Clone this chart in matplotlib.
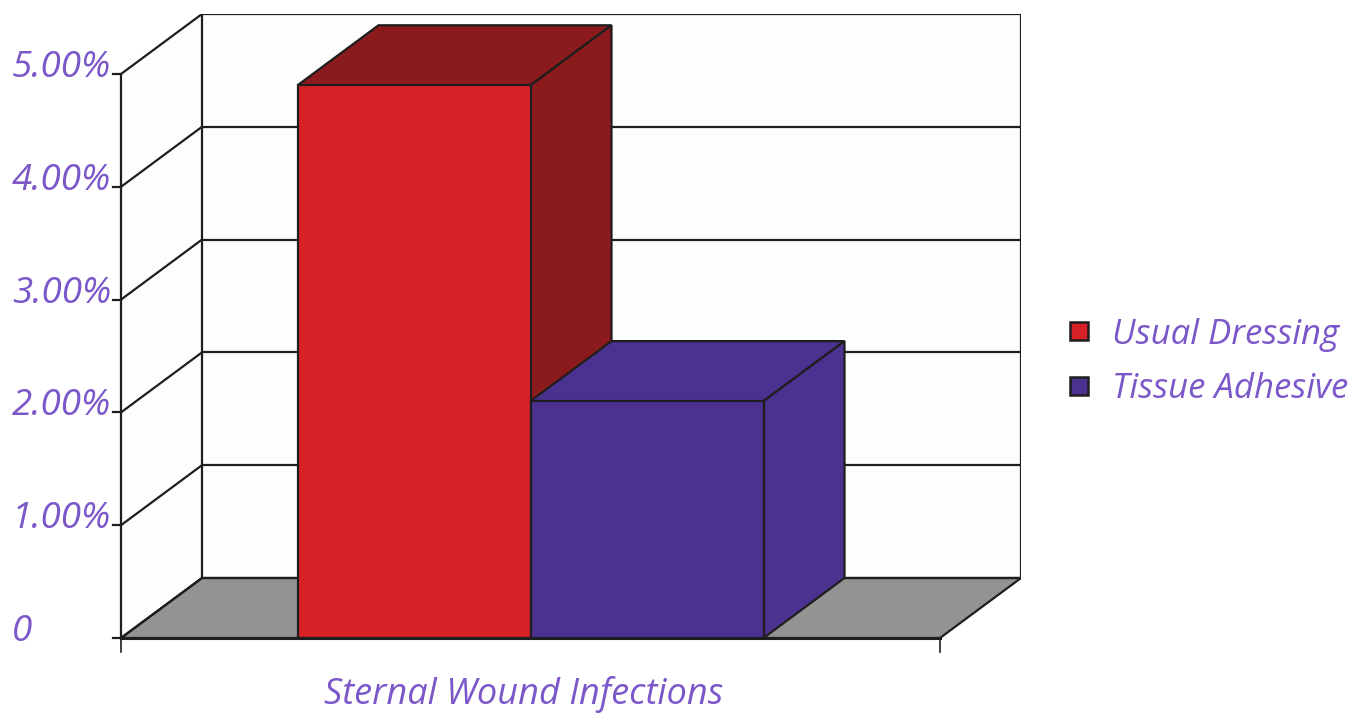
import matplotlib
matplotlib.use("Agg")
import matplotlib.pyplot as plt
from matplotlib.patches import Polygon
from matplotlib.lines import Line2D
import matplotlib.transforms as mtransforms

# ---- data ----
category = "Sternal Wound Infections"
series_names = ["Usual Dressing", "Tissue Adhesive"]
series_values = [4.9, 2.1]          # percent
tick_values = [0, 1, 2, 3, 4, 5]
tick_labels = ["0", "1.00%", "2.00%", "3.00%", "4.00%", "5.00%"]

# ---- style ----
front_colors = ["#D82127", "#4B3190"]
side_colors = ["#8B1A1C", "#4B3190"]
floor_color = "#939393"
wall_color = "#FDFDFD"
text_color = "#7B57C9"
edge = "#1E1E1E"
FONT = ["Open Sans", "DejaVu Sans"]
WEIGHT = "normal"

W, H = 1372, 715
fig = plt.figure(figsize=(W / 100, H / 100), dpi=100)
fig.patch.set_facecolor("white")

# geometry in data units
bar_w = 1.0
half_floor = 1.7575
dx = 0.3476      # depth in x units
dy = 0.532       # depth in y units
ymax = tick_values[-1]

ax = fig.add_axes([121 / W, (H - 638) / H, 900 / W, 624 / H])
ax.set_xlim(-half_floor, half_floor + dx)
ax.set_ylim(0, ymax + dy)
ax.axis("off")

lw = 1.6
# back wall
ax.add_patch(Polygon([(-half_floor + dx, dy), (half_floor + dx, dy),
                      (half_floor + dx, ymax + dy), (-half_floor + dx, ymax + dy)],
                     closed=True, facecolor=wall_color, edgecolor="none", zorder=0))
# left side wall
ax.add_patch(Polygon([(-half_floor, 0), (-half_floor + dx, dy),
                      (-half_floor + dx, ymax + dy), (-half_floor, ymax)],
                     closed=True, facecolor=wall_color, edgecolor="none", zorder=0))
# floor
ax.add_patch(Polygon([(-half_floor, 0), (half_floor, 0),
                      (half_floor + dx, dy), (-half_floor + dx, dy)],
                     closed=True, facecolor=floor_color, edgecolor=edge, lw=lw, zorder=1))

# gridlines
for t in tick_values:
    ax.plot([-half_floor + dx, half_floor + dx], [t + dy, t + dy], color=edge, lw=lw, zorder=1,
            solid_capstyle="round")
    ax.plot([-half_floor, -half_floor + dx], [t, t + dy], color=edge, lw=lw, zorder=1,
            solid_capstyle="round")
    ax.plot([-half_floor - 0.034, -half_floor], [t, t], color=edge, lw=lw, zorder=1, clip_on=False)
# vertical wall lines
ax.plot([-half_floor + dx] * 2, [dy, ymax + dy], color=edge, lw=lw, zorder=1)
ax.plot([half_floor + dx] * 2, [dy, ymax + dy], color=edge, lw=lw, zorder=1)
ax.plot([-half_floor] * 2, [0, ymax], color=edge, lw=lw, zorder=1, clip_on=False)
# bottom axis line and ticks
ax.plot([-half_floor, half_floor], [0, 0], color=edge, lw=2.2, zorder=1, clip_on=False)
for xx in (-half_floor, half_floor):
    ax.plot([xx, xx], [0, -0.12], color=edge, lw=1.2, zorder=1, clip_on=False)

# bars
n = len(series_values)
lefts = [(i - n / 2) * bar_w for i in range(n)]
for i, (v, x0) in enumerate(zip(series_values, lefts)):
    z = 3 + i
    ax.bar(x0, v, width=bar_w, align="edge", color=front_colors[i], edgecolor=edge,
           linewidth=lw, zorder=z + 0.2)
    # top face
    ax.add_patch(Polygon([(x0, v), (x0 + bar_w, v), (x0 + bar_w + dx, v + dy), (x0 + dx, v + dy)],
                         closed=True, facecolor=side_colors[i], edgecolor=edge, lw=lw, zorder=z))
    # right side face
    ax.add_patch(Polygon([(x0 + bar_w, 0), (x0 + bar_w + dx, dy), (x0 + bar_w + dx, v + dy),
                          (x0 + bar_w, v)],
                         closed=True, facecolor=side_colors[i], edgecolor=edge, lw=lw, zorder=z))

# y tick labels
trans = mtransforms.blended_transform_factory(fig.transFigure, ax.transData)
trans = mtransforms.offset_copy(trans, fig=fig, x=0, y=6, units="dots")
for t, lab in zip(tick_values, tick_labels):
    ax.text(12 / W, t, lab, transform=trans, ha="left", va="center", fontsize=26.5,
            style="italic", weight=WEIGHT, color=text_color, family=FONT, clip_on=False)

# category label
ax.text(-0.03, -0.5, category, transform=ax.transData, ha="center", va="center",
        fontsize=26, style="italic", weight=WEIGHT, color=text_color, family=FONT, clip_on=False)

# legend
handles = [Line2D([], [], linestyle="none", marker="s", markersize=13,
                  markerfacecolor=c, markeredgecolor=edge, markeredgewidth=1.8)
           for c in front_colors]
leg = fig.legend(handles, series_names, loc="center left", bbox_to_anchor=(1027 / W, (H - 362) / H),
                 frameon=False, handletextpad=0.35, labelspacing=0.6, handlelength=1.2,
                 prop={"family": FONT, "style": "italic", "weight": WEIGHT, "size": 25})
for txt in leg.get_texts():
    txt.set_color(text_color)

fig.savefig("out.png", dpi=100, facecolor="white")
